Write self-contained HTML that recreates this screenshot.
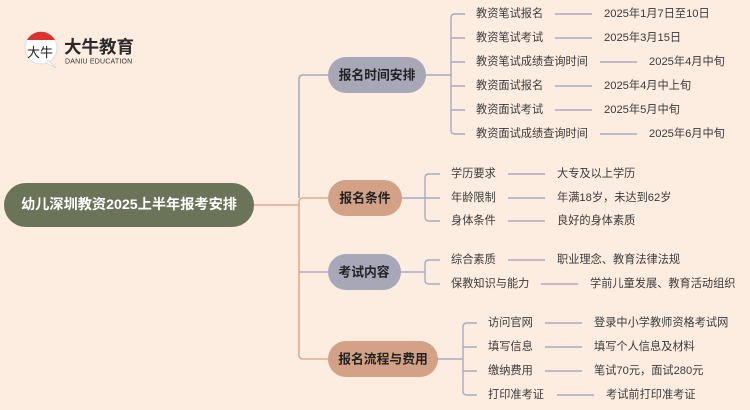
<!DOCTYPE html>
<html><head><meta charset="utf-8"><style>
html,body{margin:0;padding:0;background:#fdede1;}
svg{display:block}
text{font-family:"Liberation Sans","Noto Sans CJK SC",sans-serif;}
.l{font-size:11.2px;fill:#3a3a3a;dominant-baseline:central}
.b{font-size:12.8px;font-weight:bold;fill:#222;dominant-baseline:central;text-anchor:middle}
</style></head><body>
<svg width="750" height="410" viewBox="0 0 750 410" xmlns="http://www.w3.org/2000/svg">
<rect width="750" height="410" fill="#fdede1"/>
<!-- logo -->
<circle cx="41" cy="48" r="16" fill="#fff" stroke="#ddd" stroke-width="1"/>
<path d="M27 40 A16 16 0 0 1 55 40 Z" fill="#d9332b"/>
<path d="M48 60 L56 68 L46 63 Z" fill="#fff" stroke="#ccc" stroke-width="0.6"/>
<text x="40" y="57" font-size="13" fill="#222" text-anchor="middle" font-family="Liberation Serif,'Noto Serif CJK SC',serif">大牛</text>
<text x="64" y="53" font-size="17.5" font-weight="bold" fill="#2a2a2a">大牛教育</text>
<text x="65" y="63.5" font-size="7" fill="#333" letter-spacing="0.2">DANIU EDUCATION</text>
<!-- trunk -->
<g fill="none" stroke-width="1.6">
<path d="M254 205 H299" stroke="#e0ab90"/>
<path d="M328 75 H303 Q299 75 299 79 V198" stroke="#a9aac0"/>
<path d="M328 198 H303 Q299 198 299 202 V355 Q299 359 303 359 H328" stroke="#e0ab90"/>
<path d="M299 272 H328" stroke="#a9aac0"/>
</g>
<!-- nodes -->
<rect x="4" y="183" width="250" height="44" rx="22" fill="#6b7358"/>
<text x="129" y="205" font-size="14.2" font-weight="bold" fill="#fff" text-anchor="middle" dominant-baseline="central">幼儿深圳教资2025上半年报考安排</text>
<rect x="328" y="57" width="98" height="36" rx="18" fill="#a8a7b8"/>
<text class="b" x="377" y="75">报名时间安排</text>
<rect x="328" y="180" width="74" height="36" rx="18" fill="#d3a186"/>
<text class="b" x="365" y="198">报名条件</text>
<rect x="328" y="254" width="73" height="36" rx="18" fill="#a8a7b8"/>
<text class="b" x="364" y="272">考试内容</text>
<rect x="328" y="341" width="110" height="36" rx="18" fill="#d3a186"/>
<text class="b" x="383" y="359">报名流程与费用</text>
<!-- connectors -->
<g fill="none" stroke="#a9aac0" stroke-width="1.4">
<path d="M426 75 H451"/>
<path d="M465 14 H455 Q451 14 451 18 V130 Q451 134 455 134 H465"/>
<path d="M451 38 H465 M451 62 H465 M451 86 H465 M451 110 H465"/>
<path d="M555 14 H592 M555 38 H592 M600 62 H637 M555 86 H592 M555 110 H592 M600 134 H637"/>
<path d="M402 198 H425"/>
<path d="M440 174 H429 Q425 174 425 178 V217 Q425 221 429 221 H440 M425 198 H440"/>
<path d="M508 174 H545 M508 198 H545 M508 221 H545"/>
<path d="M401 272 H425"/>
<path d="M440 260 H429 Q425 260 425 264 V280 Q425 284 429 284 H440"/>
<path d="M508 260 H545 M541 284 H578"/>
<path d="M438 359 H463"/>
<path d="M477 323 H467 Q463 323 463 327 V391 Q463 395 467 395 H477 M463 347 H477 M463 371 H477"/>
<path d="M545 323 H582 M545 347 H582 M545 371 H582 M557 395 H594"/>
</g>
<!-- labels -->
<text class="l" x="476" y="14">教资笔试报名</text><text class="l" x="604" y="14">2025年1月7日至10日</text>
<text class="l" x="476" y="38">教资笔试考试</text><text class="l" x="604" y="38">2025年3月15日</text>
<text class="l" x="476" y="62">教资笔试成绩查询时间</text><text class="l" x="649" y="62">2025年4月中旬</text>
<text class="l" x="476" y="86">教资面试报名</text><text class="l" x="604" y="86">2025年4月中上旬</text>
<text class="l" x="476" y="110">教资面试考试</text><text class="l" x="604" y="110">2025年5月中旬</text>
<text class="l" x="476" y="134">教资面试成绩查询时间</text><text class="l" x="649" y="134">2025年6月中旬</text>
<text class="l" x="451" y="174">学历要求</text><text class="l" x="557" y="174">大专及以上学历</text>
<text class="l" x="451" y="198">年龄限制</text><text class="l" x="557" y="198">年满18岁，未达到62岁</text>
<text class="l" x="451" y="221">身体条件</text><text class="l" x="557" y="221">良好的身体素质</text>
<text class="l" x="451" y="260">综合素质</text><text class="l" x="557" y="260">职业理念、教育法律法规</text>
<text class="l" x="451" y="284">保教知识与能力</text><text class="l" x="590" y="284">学前儿童发展、教育活动组织</text>
<text class="l" x="488" y="323">访问官网</text><text class="l" x="594" y="323">登录中小学教师资格考试网</text>
<text class="l" x="488" y="347">填写信息</text><text class="l" x="594" y="347">填写个人信息及材料</text>
<text class="l" x="488" y="371">缴纳费用</text><text class="l" x="594" y="371">笔试70元，面试280元</text>
<text class="l" x="488" y="395">打印准考证</text><text class="l" x="606" y="395">考试前打印准考证</text>
</svg>
</body></html>
